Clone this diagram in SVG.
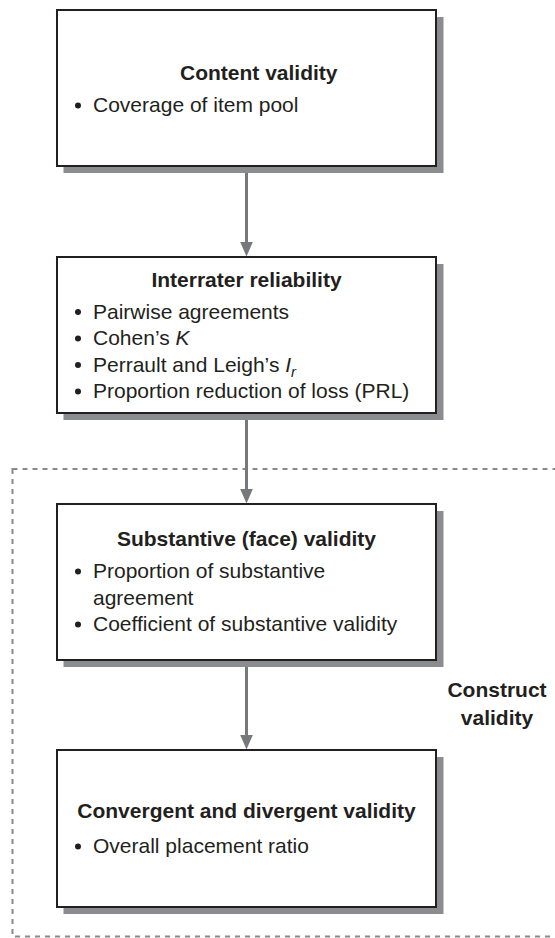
<svg xmlns="http://www.w3.org/2000/svg" width="555" height="938" viewBox="0 0 555 938">
<defs>
<style>
.shadow{fill:#8b8c90;}
.box{fill:#ffffff;stroke:#231f20;stroke-width:2;}
.title{font-family:"Liberation Sans",Arial,sans-serif;font-size:21px;font-weight:bold;fill:#231f20;}
.item{font-family:"Liberation Sans",Arial,sans-serif;font-size:21px;fill:#231f20;}
.dot{fill:#231f20;}
.conn{stroke:#77787b;stroke-width:3;fill:none;}
.head{fill:#77787b;}
.group{fill:none;stroke:#8a8a8a;stroke-width:2;stroke-dasharray:5 5;}
</style>
</defs>
<rect class="group" x="12.5" y="469" width="560" height="467.5"/>
<g id="connectors">
<line class="conn" x1="246.5" y1="166" x2="246.5" y2="244"/>
<polygon class="head" points="240.2,242 252.8,242 246.5,256.5"/>
<line class="conn" x1="246.5" y1="413" x2="246.5" y2="491"/>
<polygon class="head" points="240.2,489 252.8,489 246.5,503.5"/>
<line class="conn" x1="246.5" y1="660" x2="246.5" y2="737"/>
<polygon class="head" points="240.2,735 252.8,735 246.5,749.5"/>
</g>
<g id="content">
<rect class="shadow" x="63.5" y="17" width="380" height="156"/>
<rect class="box" x="57" y="10" width="379" height="156"/>
<text class="title" x="180" y="79.5">Content validity</text>
<circle class="dot" cx="78" cy="105.5" r="3"/>
<text class="item" x="93" y="112">Coverage of item pool</text>
</g>
<g id="interrater">
<rect class="shadow" x="63.5" y="264" width="380" height="156"/>
<rect class="box" x="57" y="257" width="379" height="156"/>
<text class="title" x="246.5" y="287" text-anchor="middle">Interrater reliability</text>
<circle class="dot" cx="78" cy="312" r="3"/>
<text class="item" x="93" y="318.5">Pairwise agreements</text>
<circle class="dot" cx="78" cy="338.5" r="3"/>
<text class="item" x="93" y="345">Cohen’s <tspan font-style="italic">K</tspan></text>
<circle class="dot" cx="78" cy="365" r="3"/>
<text class="item" x="93" y="371.5">Perrault and Leigh’s <tspan font-style="italic">I</tspan><tspan font-style="italic" font-size="15" dy="5">r</tspan></text>
<circle class="dot" cx="78" cy="391.5" r="3"/>
<text class="item" x="93" y="398">Proportion reduction of loss (PRL)</text>
</g>
<g id="substantive">
<rect class="shadow" x="63.5" y="511" width="380" height="156"/>
<rect class="box" x="57" y="504" width="379" height="156"/>
<text class="title" x="246.5" y="546" text-anchor="middle">Substantive (face) validity</text>
<circle class="dot" cx="78" cy="571.5" r="3"/>
<text class="item" x="93" y="578">Proportion of substantive</text>
<text class="item" x="93" y="604.5">agreement</text>
<circle class="dot" cx="78" cy="624.5" r="3"/>
<text class="item" x="93" y="631">Coefficient of substantive validity</text>
</g>
<g id="convergent">
<rect class="shadow" x="63.5" y="757" width="380" height="157"/>
<rect class="box" x="57" y="750" width="379" height="157"/>
<text class="title" x="246.5" y="818" text-anchor="middle">Convergent and divergent validity</text>
<circle class="dot" cx="78" cy="846.5" r="3"/>
<text class="item" x="93" y="853">Overall placement ratio</text>
</g>
<g id="construct-label">
<text class="title" x="497" y="697" text-anchor="middle">Construct</text>
<text class="title" x="497" y="725" text-anchor="middle">validity</text>
</g>
</svg>
